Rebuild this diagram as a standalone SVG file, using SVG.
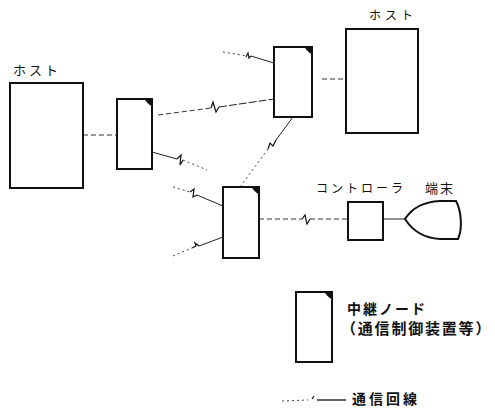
<svg xmlns="http://www.w3.org/2000/svg" width="495" height="409" viewBox="0 0 495 409">
<style>
.box{fill:#fff;stroke:#111;stroke-width:2}
.corner{fill:#111;stroke:none}
.ln{fill:none;stroke:#222;stroke-width:1}
.dash{fill:none;stroke:#333;stroke-width:1;stroke-dasharray:5,3}
.dot{fill:none;stroke:#444;stroke-width:1;stroke-dasharray:2,3}
.zz{fill:none;stroke:#111;stroke-width:1.2}
.lbl{font-family:"Noto Sans CJK JP",sans-serif;fill:#111}
.lg{font-family:"Noto Sans CJK JP",sans-serif;fill:#111;font-weight:bold}
</style>
<rect width="495" height="409" fill="#fff"/>
<g id="connectors">
  <line class="dash" x1="83" y1="135" x2="117" y2="135"/>
  <polyline class="dash" points="158,115 211,108"/>
  <polyline class="zz" points="211,108 213,102 216,112 219,107"/>
  <polyline class="ln" points="219,107 274,99" stroke-dasharray="8,2"/>
  <polyline class="dot" points="223,52 247,56"/>
  <polyline class="zz" points="246,57 248,53 249,58 251,56"/>
  <polyline class="ln" points="251,56 274,63"/>
  <line class="dash" x1="322" y1="79" x2="346" y2="79"/>
  <polyline class="ln" points="293,117 276,140"/>
  <polyline class="zz" points="276,140 273,146 270,143 268,149"/>
  <polyline class="dot" points="268,149 240,187"/>
  <polyline class="ln" points="152,152 177,159"/>
  <polyline class="zz" points="177,159 181,155 180,165 183,160"/>
  <polyline class="dot" points="183,160 207,170"/>
  <polyline class="dot" points="173,187 190,192"/>
  <polyline class="zz" points="190,192 194,189 193,197 197,195"/>
  <polyline class="ln" points="197,195 223,206"/>
  <polyline class="dot" points="173,256 192,248"/>
  <polyline class="zz" points="192,248 196,246 195,243 199,246"/>
  <polyline class="ln" points="199,246 223,237"/>
  <polyline class="dash" points="259,219 302,219"/>
  <polyline class="zz" points="302,219 305,215 307,224 310,219"/>
  <polyline class="dash" points="310,219 348,219"/>
  <line class="ln" x1="383" y1="219" x2="405" y2="219"/>
</g>
<g id="host-left">
  <rect class="box" x="10" y="83" width="73" height="105"/>
  <text class="lbl" x="13" y="75" font-size="13" letter-spacing="3">ホスト</text>
</g>
<g id="host-top">
  <rect class="box" x="346" y="29" width="72" height="104"/>
  <text class="lbl" x="369" y="20" font-size="12" letter-spacing="4">ホスト</text>
</g>
<g id="relay1">
  <rect class="box" x="117" y="99" width="35" height="70"/>
  <path class="corner" d="M144,98 L153,98 L153,107 Q147,104 144,98 Z"/>
</g>
<g id="relay2">
  <rect class="box" x="274" y="47" width="38" height="70"/>
  <path class="corner" d="M304,46 L313,46 L313,55 Q307,52 304,46 Z"/>
</g>
<g id="relay3">
  <rect class="box" x="223" y="187" width="36" height="71"/>
  <path class="corner" d="M251,186 L260,186 L260,195 Q254,192 251,186 Z"/>
</g>
<g id="controller">
  <rect class="box" x="348" y="202" width="35" height="38"/>
  <text class="lbl" x="316" y="193" font-size="12" letter-spacing="3">コントローラ</text>
</g>
<g id="terminal">
  <path class="box" d="M405,219 C412,208 422,202 440,201 L456,201 C461,210 463,228 458,239 L440,239 C422,238 412,230 405,219 Z"/>
  <text class="lbl" x="425" y="193" font-size="13" letter-spacing="2">端末</text>
</g>
<g id="legend">
  <rect class="box" x="296" y="292" width="36" height="70"/>
  <path class="corner" d="M324,291 L333,291 L333,300 Q327,297 324,291 Z"/>
  <text class="lg" x="347" y="314" font-size="14" letter-spacing="2">中継ノード</text>
  <text class="lg" x="341" y="334" font-size="15" letter-spacing="1.8">（通信制御装置等）</text>
  <polyline class="dot" points="282,401 308,400"/>
  <polyline class="zz" points="312,399 314,396" stroke-width="0.8"/>
  <line x1="317" y1="400" x2="346" y2="400" stroke="#111" stroke-width="1.3"/>
  <text class="lg" x="352" y="404" font-size="14" letter-spacing="3">通信回線</text>
</g>
</svg>
